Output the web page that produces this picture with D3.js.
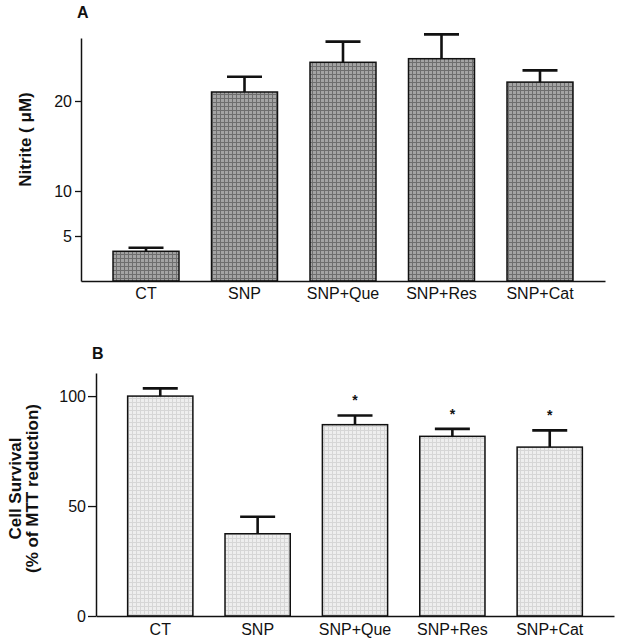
<!DOCTYPE html>
<html>
<head>
<meta charset="utf-8">
<script src="https://cdn.jsdelivr.net/npm/d3@7"></script>
<style>
  html, body { margin: 0; padding: 0; background: #fff; }
  svg { display: block; font-family: Arial, "Liberation Sans", Helvetica, sans-serif; }
</style>
</head>
<body>
<svg id="chart" width="623" height="640"></svg>
<script>
// ---------- data ----------
const categories = ["CT", "SNP", "SNP+Que", "SNP+Res", "SNP+Cat"];

// Panel A: nitrite (µM), mean and upper error
const nitriteMean = [3.3, 21.0, 24.3, 24.7, 22.1];
const nitriteErr  = [0.4, 1.7, 2.3, 2.7, 1.3];
const nitriteTicks = [5, 10, 20];

// Panel B: cell survival (% of MTT reduction)
const survivalMean = [100, 37.4, 87.0, 81.7, 76.8];
const survivalErr  = [3.5, 7.7, 4.2, 3.4, 7.6];
const survivalSig  = [false, false, true, true, true];
const survivalTicks = [0, 50, 100];

// ---------- drawing ----------
const svg = d3.select("#chart");
const defs = svg.append("defs");

function makePattern(id, base, line) {
  const p = defs.append("pattern")
    .attr("id", id).attr("patternUnits", "userSpaceOnUse")
    .attr("width", 4).attr("height", 4);
  p.append("rect").attr("width", 4).attr("height", 4).attr("fill", base);
  p.append("rect").attr("x", 0).attr("y", 0).attr("width", 1).attr("height", 4).attr("fill", line);
  p.append("rect").attr("x", 0).attr("y", 2).attr("width", 4).attr("height", 1).attr("fill", line);
}
makePattern("darkTex", "#a4a4a4", "#6e6e6e");
makePattern("lightTex", "#eeeeee", "#d6d6d6");

function panel(cfg) {
  const x = d3.scaleBand().domain(categories)
    .range([cfg.left, cfg.right]).paddingInner(0.33).paddingOuter(0.325);
  const y = d3.scaleLinear().domain(cfg.domain).range([cfg.bottom, cfg.top]);
  const g = svg.append("g");

  // bars
  g.selectAll("rect.bar").data(categories).enter().append("rect")
    .attr("class", "bar")
    .attr("x", d => x(d))
    .attr("width", x.bandwidth())
    .attr("y", (d, i) => y(cfg.mean[i]))
    .attr("height", (d, i) => y(cfg.domain[0]) - y(cfg.mean[i]))
    .attr("fill", cfg.fill)
    .attr("stroke", "#111").attr("stroke-width", 1.5);

  // error bars (upper only)
  const capW = 35;
  categories.forEach((d, i) => {
    const cx = x(d) + x.bandwidth() / 2;
    const yTop = y(cfg.mean[i] + cfg.err[i]);
    g.append("line").attr("x1", cx).attr("x2", cx)
      .attr("y1", y(cfg.mean[i])).attr("y2", yTop)
      .attr("stroke", "#111").attr("stroke-width", 2.6);
    g.append("line").attr("x1", cx - capW / 2).attr("x2", cx + capW / 2)
      .attr("y1", yTop).attr("y2", yTop)
      .attr("stroke", "#111").attr("stroke-width", 2.6);
    if (cfg.sig && cfg.sig[i]) {
      g.append("text").attr("x", cx).attr("y", yTop - 10)
        .attr("text-anchor", "middle").attr("font-size", 14).attr("font-weight", "bold")
        .attr("fill", "#111").text("*");
    }
  });

  // y axis
  const ya = g.append("g").attr("transform", `translate(${cfg.left},0)`)
    .call(d3.axisLeft(y).tickValues(cfg.ticks).tickSize(cfg.tickSize)
      .tickSizeOuter(0).tickPadding(cfg.tickPad).tickFormat(d3.format("d")));
  ya.select(".domain").attr("stroke", "#111").attr("stroke-width", 1.5);
  ya.selectAll(".tick line").attr("stroke", "#111").attr("stroke-width", 1.3);
  ya.selectAll(".tick text").attr("font-size", 16).attr("fill", "#111")
    .attr("font-family", "Arial, 'Liberation Sans', sans-serif");

  // x axis
  const xa = g.append("g").attr("transform", `translate(0,${cfg.bottom})`)
    .call(d3.axisBottom(x).tickSize(0).tickSizeOuter(0).tickPadding(cfg.xPad));
  xa.select(".domain").attr("stroke", "#111").attr("stroke-width", 1.5);
  xa.selectAll(".tick text").attr("font-size", 16).attr("fill", "#111")
    .attr("font-family", "Arial, 'Liberation Sans', sans-serif");

  // panel letter
  g.append("text").attr("x", cfg.letterX).attr("y", cfg.letterY)
    .attr("font-size", 16).attr("font-weight", "bold").attr("fill", "#111")
    .text(cfg.letter);

  // y title
  const cy = (cfg.top + cfg.bottom) / 2 + cfg.titleShift;
  cfg.title.forEach((t, k) => {
    g.append("text")
      .attr("transform", `translate(${cfg.titleX[k]},${cy}) rotate(-90)`)
      .attr("text-anchor", "middle").attr("font-size", 17).attr("font-weight", "bold")
      .attr("fill", "#111").text(t);
  });
}

panel({
  left: 81, right: 605, top: 38, bottom: 281, domain: [0, 27],
  mean: nitriteMean, err: nitriteErr, ticks: nitriteTicks,
  fill: "url(#darkTex)", tickSize: 6, tickPad: 3, xPad: 7,
  letter: "A", letterX: 77, letterY: 18,
  title: ["Nitrite ( \u03BCM)"], titleX: [31], titleShift: -20
});

panel({
  left: 96, right: 614, top: 373, bottom: 616, domain: [0, 110.5],
  mean: survivalMean, err: survivalErr, ticks: survivalTicks, sig: survivalSig,
  fill: "url(#lightTex)", tickSize: 8, tickPad: 2, xPad: 8,
  letter: "B", letterX: 92, letterY: 359,
  title: ["Cell Survival", "(% of MTT reduction)"], titleX: [21, 38], titleShift: -6
});
</script>
</body>
</html>
